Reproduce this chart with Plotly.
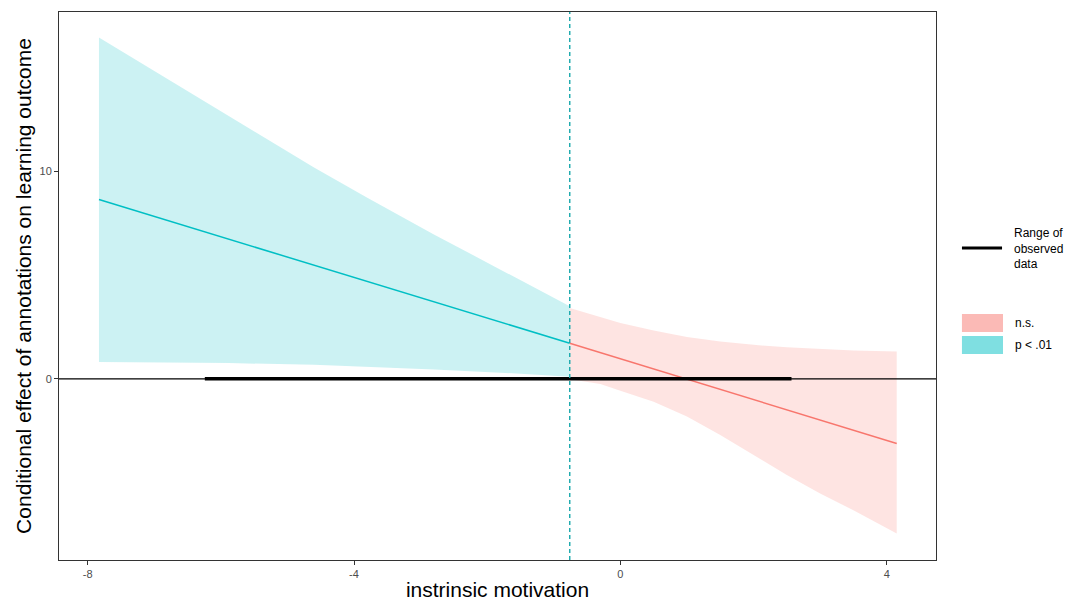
import plotly.graph_objects as go

# Johnson-Neyman: effet conditionnel
jn_point = -0.76
observed_range = [-6.24, 2.57]

# zone significative (p < .01)
sig_x = [-7.83, -5.88, -4.6, -3.8, -2.8, -1.8, -0.76]
sig_upper = [16.47, 12.7, 10.2, 8.74, 6.97, 5.27, 3.5]
sig_lower = [0.81, 0.76, 0.68, 0.58, 0.45, 0.3, 0.1]
sig_line_x = [-7.83, -0.76]
sig_line_y = [8.65, 1.72]

# zone non significative (n.s.)
ns_x = [-0.76, -0.3, 0, 0.5, 1.0, 1.5, 2.0, 2.5, 3.0, 3.5, 4.15]
ns_upper = [3.42, 3.0, 2.69, 2.33, 2.02, 1.8, 1.64, 1.52, 1.43, 1.37, 1.32]
ns_lower = [-0.02, -0.25, -0.57, -1.1, -1.82, -2.71, -3.68, -4.64, -5.53, -6.34, -7.46]
ns_line_x = [-0.76, 4.15]
ns_line_y = [1.72, -3.12]

# axes
x_ticks = [-8, -4, 0, 4]
x_ticklabels = ["-8", "-4", "0", "4"]
y_ticks = [0, 10]

teal = "#00BFC4"
red = "#F8766D"

fig = go.Figure()

# bandes de confiance
fig.add_trace(go.Scatter(x=sig_x + sig_x[::-1], y=sig_upper + sig_lower[::-1],
                         fill="toself", fillcolor="rgba(0,191,196,0.2)",
                         line=dict(width=0), mode="lines", showlegend=False, hoverinfo="skip"))
fig.add_trace(go.Scatter(x=ns_x + ns_x[::-1], y=ns_upper + ns_lower[::-1],
                         fill="toself", fillcolor="rgba(248,118,109,0.2)",
                         line=dict(width=0), mode="lines", showlegend=False, hoverinfo="skip"))

# ligne y = 0
fig.add_shape(type="line", xref="paper", x0=0, x1=1, y0=0, y1=0,
              line=dict(color="black", width=1.2))

# estimations
fig.add_trace(go.Scatter(x=sig_line_x, y=sig_line_y, mode="lines",
                         line=dict(color=teal, width=1.5), showlegend=False))
fig.add_trace(go.Scatter(x=ns_line_x, y=ns_line_y, mode="lines",
                         line=dict(color=red, width=1.5), showlegend=False))

# ligne verticale du point JN
fig.add_shape(type="line", yref="paper", y0=0, y1=1, x0=jn_point, x1=jn_point,
              line=dict(color="#17A8AC", width=1.4, dash="4px,3px"))

# plage des données observées
fig.add_trace(go.Scatter(x=observed_range, y=[0, 0], mode="lines",
                         line=dict(color="black", width=3.5), showlegend=False))

# légende faite à la main (comme ggplot)
fig.add_shape(type="line", xref="paper", yref="paper", x0=1.0296, x1=1.0753,
              y0=0.5693, y1=0.5693, line=dict(color="black", width=3))
fig.add_annotation(xref="paper", yref="paper", x=1.0867, y=0.5693, xanchor="left",
                   yanchor="middle", align="left", showarrow=False,
                   text="Range of<br>observed<br>data", font=dict(size=12))
fig.add_shape(type="rect", xref="paper", yref="paper", x0=1.0296, x1=1.0764,
              y0=0.4161, y1=0.4489, line=dict(width=0), fillcolor="rgba(248,118,109,0.5)")
fig.add_shape(type="rect", xref="paper", yref="paper", x0=1.0296, x1=1.0764,
              y0=0.3759, y1=0.4088, line=dict(width=0), fillcolor="rgba(0,191,196,0.5)")
fig.add_annotation(xref="paper", yref="paper", x=1.0878, y=0.4316, xanchor="left",
                   yanchor="middle", showarrow=False, text="n.s.", font=dict(size=12))
fig.add_annotation(xref="paper", yref="paper", x=1.0878, y=0.3923, xanchor="left",
                   yanchor="middle", showarrow=False, text="p < .01", font=dict(size=12))

axis_style = dict(showgrid=False, zeroline=False, showline=True, mirror=True,
                  linecolor="#333333", linewidth=1, ticks="outside", ticklen=4,
                  tickcolor="#333333", tickfont=dict(size=11, color="#4D4D4D"))

fig.update_layout(
    width=1076, height=600,
    margin=dict(l=51, r=148, t=4, b=48),
    plot_bgcolor="white", paper_bgcolor="white",
    showlegend=False,
    font=dict(family="Liberation Sans, Arial, sans-serif", color="black"),
    xaxis=dict(range=[-8.43, 4.74], tickvals=x_ticks, ticktext=x_ticklabels,
               title=dict(text="instrinsic motivation", font=dict(size=21), standoff=3),
               **axis_style),
    yaxis=dict(range=[-8.74, 17.7], tickvals=y_ticks,
               title=dict(text="Conditional effect of annotations on learning outcome",
                          font=dict(size=21), standoff=2),
               **axis_style),
)

fig.write_html("out.html")
